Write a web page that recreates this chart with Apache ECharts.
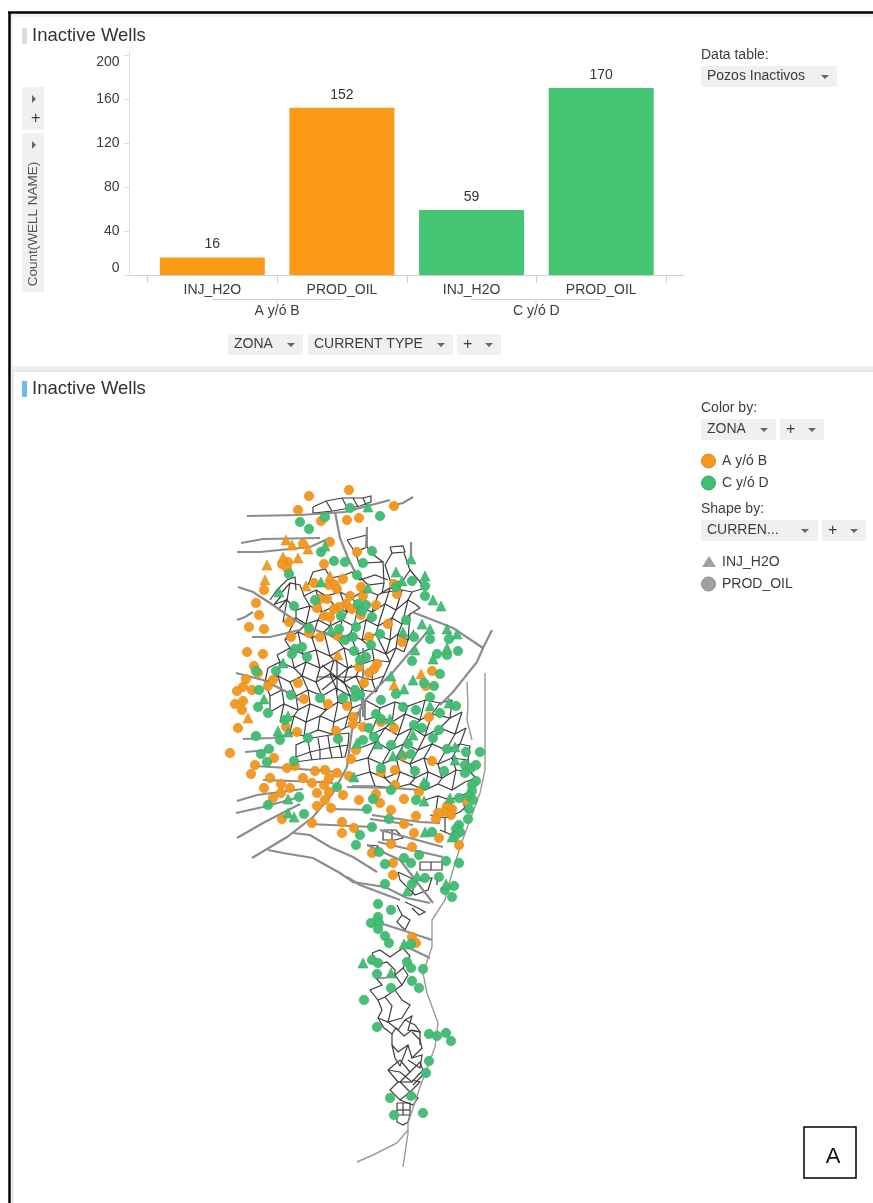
<!DOCTYPE html>
<html>
<head>
<meta charset="utf-8">
<title>Inactive Wells</title>
<script src="https://cdn.jsdelivr.net/npm/echarts@6/dist/echarts.min.js"></script>
<style>
html, body { margin: 0; padding: 0; background: #fff; }
#main { width: 873px; height: 1203px; }
</style>
</head>
<body>
<div id="main"></div>
<script>
var FONT = '"Liberation Sans", Arial, sans-serif';
var ORANGE = '#fb9a16';
var GREEN = '#43c572';
var WELL_ORANGE = '#f4981f';
var WELL_GREEN = '#41bd74';

// bar chart
var typeLabels = ['INJ_H2O', 'PROD_OIL', 'INJ_H2O', 'PROD_OIL'];
var zoneLabels = ['A y/ó B', 'C y/ó D'];
var wellCounts = [16, 152, 59, 170];
var barColors = [ORANGE, ORANGE, GREEN, GREEN];
var yTicks = [0, 40, 80, 120, 160, 200];

// wells, [x, y] in picture units
var wellsABProd = [
	[349,490],[309,496],[298,510],[394,506],[321,521],[347,520],[359,518],[303,544],[330,542],[357,552],
	[288,562],[282,564],[287,568],[324,564],[264,590],[314,583],[343,579],[329,585],[335,585],[337,589],
	[361,587],[363,596],[394,584],[397,594],[256,603],[350,596],[327,599],[320,599],[346,604],[339,607],
	[334,609],[352,609],[317,608],[376,605],[361,615],[324,616],[330,617],[259,615],[249,627],[264,629],
	[289,622],[388,624],[309,633],[291,637],[320,637],[338,636],[369,637],[402,642],[247,652],[263,654],
	[254,666],[258,673],[246,679],[243,687],[237,691],[252,690],[268,686],[273,680],[298,683],[304,699],
	[359,667],[369,673],[374,669],[377,664],[364,683],[432,671],[426,686],[328,704],[347,706],[235,704],
	[243,701],[242,710],[238,728],[286,727],[297,732],[336,731],[353,717],[353,724],[363,727],[381,722],
	[394,728],[429,717],[230,753],[356,750],[351,759],[403,756],[432,761],[255,765],[274,758],[251,774],
	[287,768],[295,766],[315,771],[325,770],[337,773],[381,772],[395,770],[270,778],[303,778],[329,778],
	[349,776],[281,784],[312,783],[324,785],[395,785],[264,788],[290,788],[281,793],[317,793],[329,792],
	[376,794],[419,792],[273,798],[343,795],[325,800],[359,800],[380,803],[404,799],[466,800],[317,806],
	[331,808],[391,810],[447,806],[452,809],[444,812],[438,813],[451,815],[436,819],[416,816],[282,819],
	[312,823],[342,822],[354,828],[404,824],[342,833],[414,833],[439,838],[391,844],[412,847],[459,845],
	[372,853],[393,863],[393,875],[412,937],[416,943]
];
var wellsABInj = [
	[286,540],[292,545],[308,549],[283,557],[298,558],[267,565],[265,580],[330,576],[306,586],[338,655],
	[421,674],[394,685],[248,718]
];
var wellsCDProd = [
	[350,508],[325,517],[300,522],[309,529],[380,516],[321,552],[372,551],[334,561],[345,562],[363,563],
	[289,574],[357,575],[412,581],[425,586],[396,587],[425,596],[315,600],[294,606],[366,605],[358,604],
	[362,611],[341,616],[372,617],[406,620],[309,628],[339,629],[356,627],[345,640],[353,637],[380,634],
	[414,637],[430,639],[449,639],[371,645],[302,647],[295,649],[292,654],[307,657],[354,651],[437,654],
	[447,655],[458,651],[366,657],[360,660],[412,661],[276,671],[256,671],[440,674],[424,683],[434,686],
	[259,690],[355,690],[360,695],[355,697],[396,694],[430,697],[381,700],[291,695],[320,698],[343,698],
	[258,707],[268,713],[285,720],[256,736],[280,740],[308,738],[338,739],[269,749],[261,754],[267,762],
	[294,761],[376,714],[381,719],[403,707],[416,710],[440,713],[456,706],[369,728],[414,725],[422,728],
	[439,730],[363,740],[374,737],[391,745],[408,744],[433,738],[411,754],[447,749],[466,752],[480,752],
	[465,765],[471,768],[476,765],[465,773],[381,768],[415,771],[444,771],[476,781],[425,785],[472,785],
	[337,787],[391,790],[472,791],[469,796],[299,797],[373,799],[416,800],[459,798],[473,800],[268,805],
	[367,809],[469,809],[304,814],[389,819],[468,819],[372,827],[459,825],[456,829],[460,832],[455,836],
	[432,832],[360,835],[356,845],[379,852],[404,858],[419,855],[411,863],[385,864],[446,861],[459,863],
	[439,877],[425,878],[385,884],[454,886],[445,890],[452,897],[412,884],[378,904],[391,910],[378,917],
	[371,923],[379,923],[378,929],[385,936],[389,943],[411,944],[372,960],[378,963],[407,962],[411,968],
	[423,969],[377,974],[391,988],[412,981],[419,988],[364,1000],[377,1027],[429,1034],[437,1036],[446,1033],
	[451,1041],[429,1061],[426,1073],[390,1098],[411,1096],[394,1115],[423,1113]
];
var wellsCDInj = [
	[368,507],[325,546],[411,559],[396,572],[425,576],[402,581],[321,582],[368,588],[279,592],[433,600],
	[441,606],[422,624],[430,629],[447,629],[457,634],[403,632],[331,630],[415,650],[447,648],[433,659],
	[283,663],[391,676],[413,680],[404,689],[264,699],[449,703],[288,716],[278,731],[288,732],[390,719],
	[430,706],[413,735],[378,744],[357,743],[393,756],[402,753],[455,747],[455,760],[354,777],[424,782],
	[450,798],[424,801],[288,799],[288,813],[294,817],[425,832],[452,837],[417,876],[446,884],[407,891],
	[404,944],[363,963],[391,973]
];

// faults, flat x,y runs
var faultLines = [
	[247,516,300,515,345,512,390,500],
	[390,506,403,503,413,497],
	[335,512,340,538,348,558,355,572],
	[241,543,263,539,320,538],
	[237,552,260,552,310,547,330,538],
	[367,527,366,548],
	[411,542,411,558],
	[238,587,253,592,270,603,290,617,307,627,330,635,353,638],
	[412,612,433,620,453,628,483,648],
	[492,630,483,648,477,662,453,692,440,705],
	[237,620,245,617,253,612],
	[252,637,270,637,300,630],
	[236,673,263,680,287,692,303,702],
	[427,632,393,672,363,702,352,730,347,767,333,793,313,817,287,837,252,858],
	[363,648,363,700,363,717],
	[237,801,257,795,303,789],
	[236,813,263,807,300,797],
	[237,838,263,823,300,804],
	[243,739,273,738,297,733],
	[245,752,270,750],
	[255,766,287,768,337,772],
	[263,780,320,782,333,783],
	[310,824,373,827],
	[330,809,370,810],
	[293,833,310,835,330,847,353,857,377,872],
	[268,850,283,853,313,858,340,873,353,882,385,887,407,898,430,903],
	[347,877,360,885,400,900],
	[347,787,393,788,420,790],
	[372,815,420,822,440,823],
	[370,819,413,825],
	[380,830,443,847],
	[378,842,443,857],
	[367,845,400,860,433,903],
	[383,924,408,932,432,940],
	[403,945,430,958]
];
var boundaryLines = [
	[485,673,485,770,480,793,460,847,447,890,445,900,432,920,432,947,423,973,427,993,438,1023,435,1047,420,1087,408,1123,408,1133,403,1167],
	[408,1130,397,1143,373,1155,357,1162],
	[467,682,468,705,467,720,472,740]
];

// cell mesh, flat x,y runs
var cellLines = [
	[313,507,326,501,342,498,363,498,371,496,371,502,360,506,350,508,333,511,313,513,313,507],
	[326,501,332,511],[342,498,348,509],[353,498,358,507],[363,498,366,505],
	[347,540,367,535,367,547,355,552,347,540],
	[355,552,360,566,366,563,383,562,384,583,368,585,358,575],
	[367,547,375,556,383,562],
	[390,547,403,546,405,552,392,553,390,547],
	[392,553,385,565,390,580,402,582,410,570,404,553],
	[402,582,398,590,382,593,384,583],
	[410,570,420,582,425,588],
	[308,585,313,572,325,569,331,578,345,575,352,572,360,580,375,575,388,580],
	[282,592,290,583,300,585,304,596,316,590,326,596,340,592,352,598,365,590,378,595,390,588,402,590,412,592,425,588],
	[275,604,287,600,296,610,310,606,322,612,335,606,347,612,358,606,372,612,385,604,396,610,408,600,415,604],
	[283,622,296,618,306,624,318,620,330,626,342,620,354,626,366,620,378,626,392,618,402,624,410,614,420,608],
	[285,640,298,632,312,638,324,632,338,640,350,634,362,640,376,634,390,640,398,634,408,640,414,630],
	[277,655,290,648,303,654,316,650,330,656,344,648,358,654,372,648,386,654,396,648,404,652],
	[268,668,280,662,294,668,306,662,320,668,334,660,348,668,362,664,374,660,390,662],
	[265,682,278,676,290,682,302,676,316,682,330,674,344,682,356,676,372,680,384,676],
	[270,696,282,690,296,696,308,690,322,696,336,688,350,696,362,690,376,692],
	[270,712,284,704,298,710,310,704,326,710,338,702,352,708,362,704],
	[280,722,294,716,306,722,320,716,334,722,348,716,360,712],
	[290,732,304,736,318,730,332,734,345,728,360,722],
	[304,596,310,606],[326,596,335,606],[352,598,358,606],[378,595,372,612],[402,590,396,610],
	[316,590,322,612],[340,592,347,612],[390,588,385,604],[412,592,408,600],[290,583,287,600],
	[287,600,283,622],[296,610,296,618],[322,612,318,620],[347,612,342,620],[372,612,366,620],[396,610,392,618],[415,604,420,608],
	[310,606,306,624],[335,606,330,626],[358,606,354,626],[385,604,378,626],[408,600,402,624],
	[306,624,298,632],[330,626,324,632],[354,626,350,634],[378,626,376,634],[402,624,398,634],
	[296,618,285,640],[318,620,312,638],[342,620,338,640],[366,620,362,640],[392,618,390,640],[410,614,408,640],
	[285,640,290,648],[312,638,316,650],[338,640,344,648],[362,640,372,648],[390,640,386,654],[408,640,404,652],
	[298,632,303,654],[324,632,330,656],[350,634,358,654],[376,634,386,654],[398,634,396,648],
	[277,655,280,662],[303,654,306,662],[330,656,334,660],[358,654,362,664],[386,654,390,662],
	[290,648,294,668],[316,650,320,668],[344,648,348,668],[372,648,374,660],[396,648,390,662],
	[294,668,302,676],[320,668,316,682],[348,668,344,682],[374,660,372,680],
	[280,662,278,676],[306,662,302,676],[334,660,330,674],[362,664,356,676],[390,662,384,676],[268,668,265,682],
	[278,676,282,690],[302,676,308,690],[330,674,336,688],[356,676,362,690],[384,676,376,692],
	[290,682,296,696],[316,682,322,696],[344,682,350,696],[372,680,376,692],[265,682,270,696],
	[296,696,298,710],[322,696,326,710],[350,696,352,708],[270,696,270,712],
	[282,690,284,704],[308,690,310,704],[336,688,338,702],[362,690,362,704],
	[284,704,280,722],[310,704,306,722],[338,702,334,722],[362,704,360,712],
	[298,710,294,716],[326,710,320,716],[352,708,348,716],
	[294,716,290,732],[320,716,318,730],[348,716,345,728],
	[306,722,304,736],[334,722,332,734],[360,712,360,722],
	[337,660,337,692],[322,665,352,690],[352,665,322,690],[318,677,356,677],
	[270,600,277,590,287,580,295,577,296,590],[273,606,282,595],[278,610,288,598],
	[365,700,380,708,395,702,408,706,425,700,440,703,452,700],
	[365,720,378,716,392,722,405,714,420,720,432,714,450,718,462,712],
	[370,735,385,728,398,735,412,728,425,736,440,728,455,734,466,728],
	[360,748,376,742,390,750,404,744,418,750,432,744,446,750,460,744,470,746],
	[352,762,368,758,382,764,396,758,410,764,424,758,438,764,452,758,468,760],
	[350,778,370,772,385,778,400,772,415,778,428,772,442,778,456,770,470,772],
	[352,786,375,786,395,788,410,784,425,790,438,784,452,790,465,782,476,778],
	[380,708,378,716],[408,706,405,714],[440,703,432,714],[392,722,385,728],[420,720,412,728],[450,718,440,728],
	[365,700,365,720],[395,702,392,722],[425,700,420,720],[452,700,450,718],
	[378,716,370,735],[405,714,398,735],[432,714,425,736],[462,712,455,734],
	[385,728,376,742],[412,728,404,744],[440,728,432,744],[466,728,460,744],
	[398,735,390,750],[425,736,418,750],[455,734,446,750],[376,742,368,758],[404,744,396,758],[432,744,424,758],[460,744,452,758],
	[390,750,382,764],[418,750,410,764],[446,750,438,764],[470,746,468,760],
	[382,764,385,778],[410,764,415,778],[438,764,442,778],[468,760,470,772],[370,772,375,786],[400,772,395,788],[428,772,425,790],[456,770,452,790],
	[368,758,370,772],[396,758,400,772],[424,758,428,772],[452,758,456,770],
	[385,778,395,788],[415,778,410,784],[442,778,438,784],[470,772,476,778],
	[296,757,310,752,328,748,348,745,349,733],
	[296,757,296,745,312,738,330,735,349,733],
	[295,762,310,760,330,758,345,757,348,745],
	[308,740,310,752],[318,738,320,750],[328,736,330,750],[338,735,340,748],
	[310,752,312,760],[320,750,320,759],[330,749,332,758],[340,747,342,758],
	[425,800,438,796,450,800,462,795,470,792],
	[430,815,445,818,460,812,468,805],
	[440,830,452,835,462,826],
	[438,796,436,810],[450,800,455,815],[462,795,465,810],[445,818,445,832],
	[383,830,383,840,395,840,403,838,396,830,383,830],[392,830,392,840],
	[420,862,442,862,442,870,420,870,420,862],[431,862,431,870],
	[398,872,415,880,432,878,428,890,415,895,400,880,398,872],[415,880,412,895],[437,875,437,885],
	[367,845,378,846,372,855],
	[397,905,402,915,397,922,405,930,410,920,402,915],[405,902,418,908,425,912,419,915,412,908],
	[372,953,380,950,390,957,403,948,410,956,403,968,395,975,402,985],
	[372,953,377,965,387,962,395,970,395,975,385,978,376,978,382,985,370,990,378,1000,385,997,395,990,402,985,408,975,403,968],
	[378,1000,382,1010,378,1018,388,1022,395,1020,402,1018,410,1005,402,1000,395,990],
	[385,997,392,1006,388,1022,398,1030,405,1020,412,1016,408,1030,420,1032,415,1025,405,1020],
	[378,1018,384,1028,392,1034,396,1028,404,1036,412,1030,420,1032,420,1045],
	[392,1034,392,1045,398,1052,408,1045,412,1058,422,1048,420,1040,412,1032],
	[392,1045,395,1058,400,1066,408,1045],[408,1060,420,1068,422,1055,412,1058],
	[388,1070,400,1060,410,1072,420,1062,423,1070,412,1082,400,1072,388,1070],
	[388,1070,398,1082,390,1090,400,1100,410,1092,400,1082,410,1072],
	[410,1092,420,1082,412,1080],[398,1082,412,1082],
	[400,1100,413,1105,418,1098,410,1092],[413,1085,423,1075],
	[397,1103,410,1103,410,1115,397,1115,397,1103],[403,1103,403,1115],[397,1110,410,1110],
	[397,1115,397,1122,403,1125,408,1122,410,1115]
];

//flat x,y run -> lines series item
function toCoords(list) {
	return list.map(function(run) {
		var coords = [];
		for(var i = 0; i < run.length; i += 2) {
			coords.push([run[i], run[i + 1]]);
		}
		return { coords: coords };
	});
}

function rect(x, y, w, h, fill) {
	return { type: 'rect', z: -1, silent: true, shape: { x: x, y: y, width: w, height: h }, style: { fill: fill } };
}

function hline(x1, y1, x2, y2, color, width) {
	return { type: 'line', z: -1, silent: true, shape: { x1: x1, y1: y1, x2: x2, y2: y2 }, style: { stroke: color, lineWidth: width } };
}

function label(x, y, text, size, color) {
	return {
		type: 'text', silent: true, x: x, y: y,
		style: { text: text, fill: color || '#3c3c3c', font: (size || 14) + 'px ' + FONT, verticalAlign: 'middle', align: 'left' }
	};
}

function caret(x, y) {
	return { type: 'polygon', silent: true, shape: { points: [[x, y], [x + 8, y], [x + 4, y + 4]] }, style: { fill: '#666' } };
}

function rightArrow(x, y) {
	return { type: 'polygon', silent: true, shape: { points: [[x, y], [x + 4, y + 4], [x, y + 8]] }, style: { fill: '#666' } };
}

//dropdown button
function button(x, y, w, text, caretX) {
	return [
		rect(x, y, w, 21, '#f0f0f0'),
		label(x + 6, y + 10.5, text, text == '+' ? 16 : 14),
		caret(caretX, y + 9)
	];
}

var chrome = [
	// frame and panel backgrounds
	rect(11, 14, 862, 3, '#f1f1f1'),
	rect(11, 366, 862, 5, '#efefef'),
	rect(11, 14, 2, 1189, '#f1f1f1'),
	hline(13, 371, 873, 371, '#d9d9d9', 1),
	hline(13, 371, 13, 1203, '#d9d9d9', 1),
	hline(8, 12.5, 873, 12.5, '#000', 2.5),
	hline(9.5, 12, 9.5, 1203, '#000', 2.5),
	// titles
	rect(22, 28, 5, 16, '#dcdcdc'),
	label(32, 36, 'Inactive Wells', 18.5, '#333'),
	rect(22, 381, 5, 16, '#6cbcf2'),
	label(32, 389, 'Inactive Wells', 18.5, '#333'),
	// y axis widgets
	rect(22, 87, 22, 43, '#f0f0f0'),
	rightArrow(32, 95),
	label(31, 119, '+', 16),
	rect(22, 133, 22, 159, '#f0f0f0'),
	rightArrow(32, 141),
	{
		type: 'text', silent: true, x: 33, y: 224, rotation: Math.PI / 2,
		style: { text: 'Count(WELL NAME)', fill: '#555', font: '13.5px ' + FONT, align: 'center', verticalAlign: 'middle' }
	},
	// axis pieces and brackets
	hline(124, 275.5, 684, 275.5, '#cfcfcf', 1),
	hline(129.5, 51, 129.5, 55, '#dcdcdc', 1),
	hline(212, 299.5, 342, 299.5, '#cfcfcf', 1),
	hline(277, 299, 277, 303, '#cfcfcf', 1),
	hline(471, 299.5, 600, 299.5, '#cfcfcf', 1),
	hline(536, 299, 536, 303, '#cfcfcf', 1),
	// data table selector
	label(701, 55, 'Data table:')
];
chrome = chrome.concat(
	button(701, 66, 136, 'Pozos Inactivos', 821),
	button(228, 334, 75, 'ZONA', 287),
	button(308, 334, 145, 'CURRENT TYPE', 437),
	button(457, 334, 44, '+', 485),
	[label(701, 408, 'Color by:')],
	button(701, 419, 75, 'ZONA', 760),
	button(780, 419, 44, '+', 808),
	[
		{ type: 'circle', silent: true, shape: { cx: 708.5, cy: 461, r: 7 }, style: { fill: WELL_ORANGE, stroke: '#d98a1c' } },
		label(722, 461, zoneLabels[0]),
		{ type: 'circle', silent: true, shape: { cx: 708.5, cy: 483, r: 7 }, style: { fill: WELL_GREEN, stroke: '#37a765' } },
		label(722, 483, zoneLabels[1]),
		label(701, 509, 'Shape by:')
	],
	button(701, 520, 117, 'CURREN...', 801),
	button(822, 520, 44, '+', 850),
	[
		{ type: 'polygon', silent: true, shape: { points: [[702, 567], [716, 567], [709, 556]] }, style: { fill: '#a0a0a0' } },
		label(722, 562, 'INJ_H2O'),
		{ type: 'circle', silent: true, shape: { cx: 708.5, cy: 584, r: 7 }, style: { fill: '#a0a0a0', stroke: '#8e8e8e' } },
		label(722, 584, 'PROD_OIL'),
		// panel tag
		{ type: 'rect', silent: true, shape: { x: 804, y: 1127, width: 52, height: 51 }, style: { fill: '#fff', stroke: '#000', lineWidth: 1.5 } },
		{ type: 'text', silent: true, x: 833, y: 1157, style: { text: 'A', fill: '#111', font: '22px ' + FONT, align: 'center', verticalAlign: 'middle' } }
	]
);

function wellSeries(name, data, symbol, color, border, size) {
	return {
		name: name,
		type: 'scatter',
		xAxisIndex: 2,
		yAxisIndex: 1,
		symbol: symbol,
		symbolSize: size,
		silent: true,
		itemStyle: { color: color, borderColor: border, borderWidth: 0.6, opacity: 0.97 },
		data: data,
		z: 5
	};
}

var myChart = echarts.init(document.getElementById('main'));
myChart.setOption({
	animation: false,
	backgroundColor: '#fff',
	textStyle: { fontFamily: FONT },
	tooltip: { show: false },
	graphic: { elements: chrome },
	grid: [
		{ left: 147.5, top: 55, width: 518.5, height: 220 },
		{ left: 0, top: 0, width: 873, height: 1203 }
	],
	xAxis: [
		{
			type: 'category',
			gridIndex: 0,
			data: typeLabels,
			axisLine: { show: false },
			axisTick: { show: true, length: 8, lineStyle: { color: '#cfcfcf' } },
			axisLabel: { interval: 0, margin: 8, fontSize: 14, color: '#3c3c3c', fontFamily: FONT }
		},
		{
			type: 'category',
			gridIndex: 0,
			data: zoneLabels,
			position: 'bottom',
			axisLine: { show: false },
			axisTick: { show: false },
			axisLabel: { interval: 0, margin: 29, fontSize: 14, color: '#3c3c3c', fontFamily: FONT }
		},
		{ type: 'value', gridIndex: 1, min: 0, max: 873, show: false }
	],
	yAxis: [
		{
			type: 'value',
			gridIndex: 0,
			min: yTicks[0],
			max: yTicks[yTicks.length - 1],
			interval: 40,
			offset: 18,
			axisLine: { show: true, lineStyle: { color: '#dcdcdc' } },
			axisTick: { show: true, length: 5, lineStyle: { color: '#dcdcdc' } },
			axisLabel: {
				margin: 10,
				fontSize: 14,
				color: '#3c3c3c',
				fontFamily: FONT,
				verticalAlignMinLabel: 'bottom',
				verticalAlignMaxLabel: 'top'
			},
			splitLine: { show: false }
		},
		{ type: 'value', gridIndex: 1, min: 0, max: 1203, inverse: true, show: false }
	],
	series: [
		{
			type: 'bar',
			xAxisIndex: 0,
			yAxisIndex: 0,
			barWidth: '81%',
			silent: true,
			data: wellCounts.map(function(v, i) {
				return { value: v, itemStyle: { color: barColors[i] } };
			}),
			label: { show: true, position: 'top', distance: 6, fontSize: 14, color: '#333', fontFamily: FONT }
		},
		{
			type: 'lines',
			coordinateSystem: 'cartesian2d',
			xAxisIndex: 2,
			yAxisIndex: 1,
			polyline: true,
			silent: true,
			lineStyle: { color: '#3d3d3d', width: 1.2, opacity: 1 },
			data: toCoords(cellLines),
			z: 2
		},
		{
			type: 'lines',
			coordinateSystem: 'cartesian2d',
			xAxisIndex: 2,
			yAxisIndex: 1,
			polyline: true,
			silent: true,
			lineStyle: { color: '#8c8c8c', width: 2.2, opacity: 1 },
			data: toCoords(faultLines),
			z: 3
		},
		{
			type: 'lines',
			coordinateSystem: 'cartesian2d',
			xAxisIndex: 2,
			yAxisIndex: 1,
			polyline: true,
			silent: true,
			lineStyle: { color: '#9a9a9a', width: 1.4, opacity: 1 },
			data: toCoords(boundaryLines),
			z: 3
		},
		wellSeries('A y/ó B PROD_OIL', wellsABProd, 'circle', WELL_ORANGE, '#dd8a1b', 9.5),
		wellSeries('A y/ó B INJ_H2O', wellsABInj, 'triangle', WELL_ORANGE, '#dd8a1b', 10),
		wellSeries('C y/ó D PROD_OIL', wellsCDProd, 'circle', WELL_GREEN, '#38a867', 9.5),
		wellSeries('C y/ó D INJ_H2O', wellsCDInj, 'triangle', WELL_GREEN, '#38a867', 10)
	]
});
</script>
</body>
</html>
